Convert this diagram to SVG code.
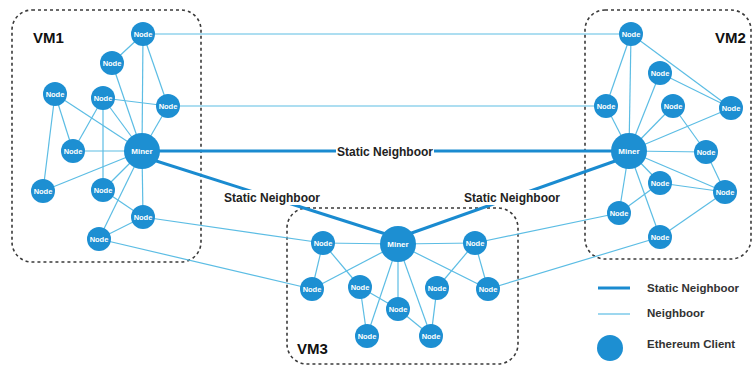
<svg xmlns="http://www.w3.org/2000/svg" width="753" height="367" viewBox="0 0 753 367">
<style>
.box{fill:none;stroke:#3a3a3a;stroke-width:1.6;stroke-dasharray:3 3}
.vm{font-family:"Liberation Sans",Arial,sans-serif;font-weight:bold;font-size:15px;fill:#111}
.thin{stroke:#5cbde4;stroke-width:1.2;fill:none}
.thick{stroke:#1a8bd0;stroke-width:3;fill:none}
.n{fill:#1d8fd2}
.nt{font-family:"Liberation Sans",Arial,sans-serif;font-weight:bold;font-size:7.5px;fill:#fff;text-anchor:middle}
.mt{font-family:"Liberation Sans",Arial,sans-serif;font-weight:bold;font-size:8px;fill:#fff;text-anchor:middle}
.lbl{font-family:"Liberation Sans",Arial,sans-serif;font-weight:bold;font-size:12px;fill:#222}
.lg{font-family:"Liberation Sans",Arial,sans-serif;font-weight:bold;font-size:11.5px;fill:#333}
</style>
<rect width="753" height="367" fill="#fff"/>
<g id="boxes">
<rect class="box" x="12" y="10" width="189" height="252" rx="20"/>
<rect class="box" x="585" y="10" width="166" height="249" rx="20"/>
<rect class="box" x="287" y="208" width="231" height="156" rx="20"/>
<text class="vm" x="33" y="43">VM1</text>
<text class="vm" x="715" y="43">VM2</text>
<text class="vm" x="297" y="354">VM3</text>
</g>
<g id="connectors">
<g class="thin">
<!-- VM1 -->
<line x1="143" y1="34" x2="112" y2="63"/>
<line x1="143" y1="34" x2="142" y2="151"/>
<line x1="143" y1="34" x2="168" y2="106"/>
<line x1="112" y1="63" x2="142" y2="151"/>
<line x1="103" y1="98" x2="168" y2="106"/>
<line x1="103" y1="98" x2="142" y2="151"/>
<line x1="103" y1="98" x2="73" y2="151"/>
<line x1="103" y1="98" x2="103" y2="190"/>
<line x1="55" y1="94" x2="73" y2="151"/>
<line x1="55" y1="94" x2="43" y2="191"/>
<line x1="55" y1="94" x2="142" y2="151"/>
<line x1="168" y1="106" x2="142" y2="151"/>
<line x1="73" y1="151" x2="142" y2="151"/>
<line x1="43" y1="191" x2="142" y2="151"/>
<line x1="103" y1="190" x2="142" y2="151"/>
<line x1="103" y1="190" x2="143" y2="217"/>
<line x1="142" y1="151" x2="143" y2="217"/>
<line x1="142" y1="151" x2="99" y2="239"/>
<line x1="99" y1="239" x2="143" y2="217"/>
<!-- VM2 -->
<line x1="631" y1="34" x2="606" y2="106"/>
<line x1="631" y1="34" x2="629" y2="151"/>
<line x1="631" y1="34" x2="731" y2="108"/>
<line x1="660" y1="73" x2="731" y2="108"/>
<line x1="660" y1="73" x2="629" y2="151"/>
<line x1="606" y1="106" x2="629" y2="151"/>
<line x1="673" y1="106" x2="706" y2="152"/>
<line x1="673" y1="106" x2="629" y2="151"/>
<line x1="731" y1="108" x2="629" y2="151"/>
<line x1="629" y1="151" x2="706" y2="152"/>
<line x1="629" y1="151" x2="660" y2="183"/>
<line x1="629" y1="151" x2="725" y2="192"/>
<line x1="629" y1="151" x2="619" y2="213"/>
<line x1="629" y1="151" x2="660" y2="237"/>
<line x1="706" y1="152" x2="725" y2="192"/>
<line x1="660" y1="183" x2="725" y2="192"/>
<line x1="660" y1="183" x2="619" y2="213"/>
<line x1="725" y1="192" x2="660" y2="237"/>
<!-- VM3 -->
<line x1="323" y1="243" x2="398" y2="244"/>
<line x1="323" y1="243" x2="312" y2="289"/>
<line x1="323" y1="243" x2="360" y2="287"/>
<line x1="398" y1="244" x2="475" y2="243"/>
<line x1="398" y1="244" x2="312" y2="289"/>
<line x1="398" y1="244" x2="367" y2="336"/>
<line x1="398" y1="244" x2="398" y2="309"/>
<line x1="398" y1="244" x2="431" y2="336"/>
<line x1="398" y1="244" x2="488" y2="289"/>
<line x1="475" y1="243" x2="437" y2="288"/>
<line x1="475" y1="243" x2="488" y2="289"/>
<line x1="437" y1="288" x2="431" y2="336"/>
<line x1="360" y1="287" x2="398" y2="309"/>
<line x1="360" y1="287" x2="367" y2="336"/>
<line x1="398" y1="309" x2="431" y2="336"/>
<!-- inter-VM -->
<line x1="143" y1="34" x2="631" y2="34"/>
<line x1="168" y1="106" x2="606" y2="106"/>
<line x1="143" y1="217" x2="323" y2="243"/>
<line x1="99" y1="239" x2="312" y2="289"/>
<line x1="619" y1="213" x2="475" y2="243"/>
<line x1="660" y1="237" x2="488" y2="289"/>
</g>
<g class="thick">
<line x1="142" y1="151" x2="629" y2="151"/>
<line x1="150" y1="159" x2="392" y2="236"/>
<line x1="618" y1="160" x2="406" y2="235"/>
</g>
<g id="static-labels">
<rect x="336" y="143" width="98" height="16" fill="#fff"/>
<text class="lbl" x="385" y="155.5" text-anchor="middle">Static Neighboor</text>
<rect x="224" y="190" width="96" height="15" fill="#fff"/>
<text class="lbl" x="272" y="201.5" text-anchor="middle">Static Neighboor</text>
<rect x="464" y="190" width="96" height="15" fill="#fff"/>
<text class="lbl" x="512" y="201.5" text-anchor="middle">Static Neighboor</text>
</g>
</g>
<g id="vm1-nodes">
<g id="n1a"><circle class="n" cx="143" cy="34" r="12"/><text class="nt" x="143" y="36.7">Node</text></g>
<g id="n1b"><circle class="n" cx="112" cy="63" r="12"/><text class="nt" x="112" y="65.7">Node</text></g>
<g id="n1c"><circle class="n" cx="55" cy="94" r="12"/><text class="nt" x="55" y="96.7">Node</text></g>
<g id="n1d"><circle class="n" cx="103" cy="98" r="12"/><text class="nt" x="103" y="100.7">Node</text></g>
<g id="n1e"><circle class="n" cx="168" cy="106" r="12"/><text class="nt" x="168" y="108.7">Node</text></g>
<g id="n1f"><circle class="n" cx="73" cy="151" r="12"/><text class="nt" x="73" y="153.7">Node</text></g>
<g id="m1"><circle class="n" cx="142" cy="151" r="18"/><text class="mt" x="142" y="153.8">Miner</text></g>
<g id="n1g"><circle class="n" cx="43" cy="191" r="12"/><text class="nt" x="43" y="193.7">Node</text></g>
<g id="n1h"><circle class="n" cx="103" cy="190" r="12"/><text class="nt" x="103" y="192.7">Node</text></g>
<g id="n1i"><circle class="n" cx="143" cy="217" r="12"/><text class="nt" x="143" y="219.7">Node</text></g>
<g id="n1j"><circle class="n" cx="99" cy="239" r="12"/><text class="nt" x="99" y="241.7">Node</text></g>
</g>
<g id="vm2-nodes">
<g id="n2a"><circle class="n" cx="631" cy="34" r="12"/><text class="nt" x="631" y="36.7">Node</text></g>
<g id="n2b"><circle class="n" cx="660" cy="73" r="12"/><text class="nt" x="660" y="75.7">Node</text></g>
<g id="n2c"><circle class="n" cx="606" cy="106" r="12"/><text class="nt" x="606" y="108.7">Node</text></g>
<g id="n2d"><circle class="n" cx="673" cy="106" r="12"/><text class="nt" x="673" y="108.7">Node</text></g>
<g id="n2e"><circle class="n" cx="731" cy="108" r="12"/><text class="nt" x="731" y="110.7">Node</text></g>
<g id="m2"><circle class="n" cx="629" cy="151" r="18"/><text class="mt" x="629" y="153.8">Miner</text></g>
<g id="n2f"><circle class="n" cx="706" cy="152" r="12"/><text class="nt" x="706" y="154.7">Node</text></g>
<g id="n2g"><circle class="n" cx="660" cy="183" r="12"/><text class="nt" x="660" y="185.7">Node</text></g>
<g id="n2h"><circle class="n" cx="725" cy="192" r="12"/><text class="nt" x="725" y="194.7">Node</text></g>
<g id="n2i"><circle class="n" cx="619" cy="213" r="12"/><text class="nt" x="619" y="215.7">Node</text></g>
<g id="n2j"><circle class="n" cx="660" cy="237" r="12"/><text class="nt" x="660" y="239.7">Node</text></g>
</g>
<g id="vm3-nodes">
<g id="n3a"><circle class="n" cx="323" cy="243" r="12"/><text class="nt" x="323" y="245.7">Node</text></g>
<g id="m3"><circle class="n" cx="398" cy="244" r="18"/><text class="mt" x="398" y="246.8">Miner</text></g>
<g id="n3b"><circle class="n" cx="475" cy="243" r="12"/><text class="nt" x="475" y="245.7">Node</text></g>
<g id="n3c"><circle class="n" cx="312" cy="289" r="12"/><text class="nt" x="312" y="291.7">Node</text></g>
<g id="n3d"><circle class="n" cx="360" cy="287" r="12"/><text class="nt" x="360" y="289.7">Node</text></g>
<g id="n3e"><circle class="n" cx="437" cy="288" r="12"/><text class="nt" x="437" y="290.7">Node</text></g>
<g id="n3f"><circle class="n" cx="488" cy="289" r="12"/><text class="nt" x="488" y="291.7">Node</text></g>
<g id="n3g"><circle class="n" cx="398" cy="309" r="12"/><text class="nt" x="398" y="311.7">Node</text></g>
<g id="n3h"><circle class="n" cx="367" cy="336" r="12"/><text class="nt" x="367" y="338.7">Node</text></g>
<g id="n3i"><circle class="n" cx="431" cy="336" r="12"/><text class="nt" x="431" y="338.7">Node</text></g>
</g>
<g id="legend">
<line class="thick" x1="598" y1="288" x2="630" y2="288"/>
<text class="lg" x="647" y="292">Static Neighboor</text>
<line class="thin" x1="598" y1="314" x2="630" y2="314"/>
<text class="lg" x="647" y="317">Neighboor</text>
<circle class="n" cx="610" cy="348" r="13"/>
<text class="lg" x="647" y="348">Ethereum Client</text>
</g>
</svg>
